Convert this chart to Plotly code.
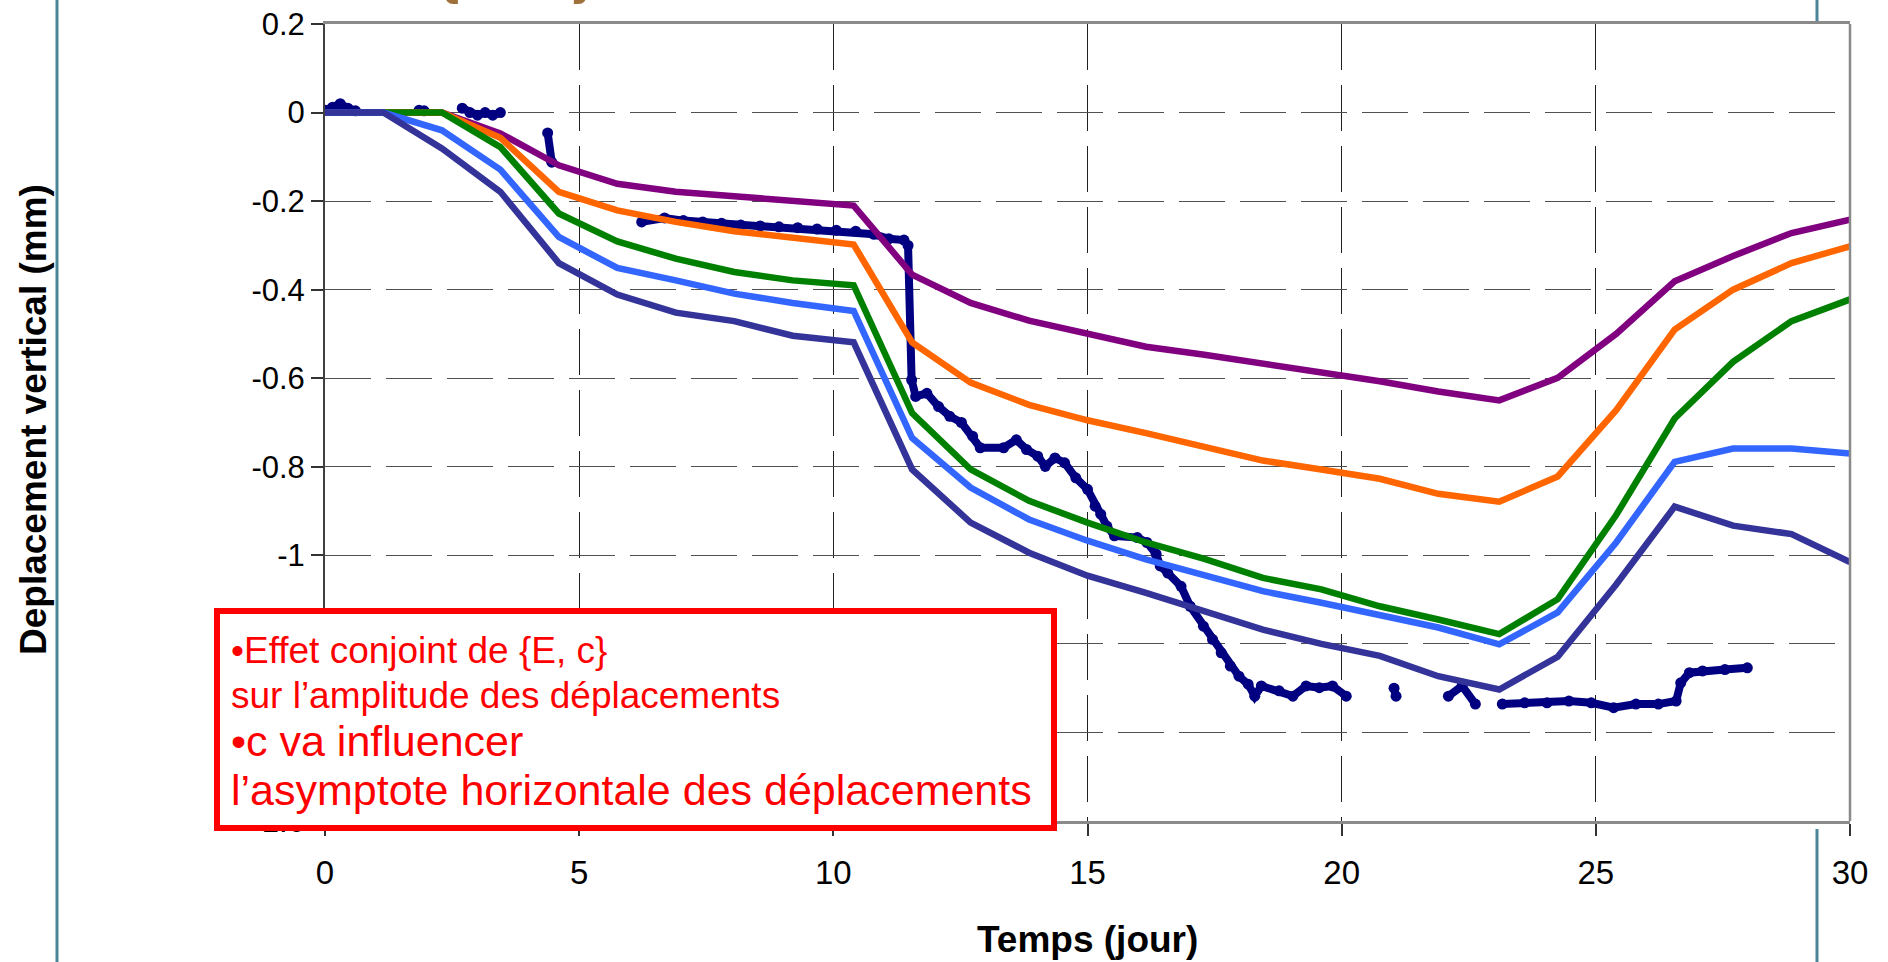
import plotly.graph_objects as go

# ---------------- data ----------------
T = [0, 1.15, 2.3, 3.45, 4.6, 5.75, 6.9, 8.05, 9.2, 10.4, 11.55, 12.7, 13.85, 15.0,
     16.15, 17.3, 18.45, 19.6, 20.75, 21.9, 23.1, 24.25, 25.4, 26.55, 27.7, 28.85, 30.0]

s_purple = [0, 0, 0, -0.047, -0.119, -0.161, -0.179, -0.189, -0.198, -0.210, -0.366, -0.430,
            -0.470, -0.499, -0.529, -0.547, -0.566, -0.586, -0.607, -0.630, -0.650, -0.599,
            -0.500, -0.381, -0.324, -0.272, -0.242]
s_orange = [0, 0, 0, -0.057, -0.179, -0.221, -0.247, -0.268, -0.281, -0.298, -0.519, -0.610,
            -0.660, -0.695, -0.724, -0.754, -0.786, -0.806, -0.827, -0.861, -0.879, -0.822,
            -0.672, -0.490, -0.400, -0.340, -0.302]
s_green = [0, 0, 0, -0.078, -0.228, -0.291, -0.330, -0.360, -0.379, -0.390, -0.679, -0.806,
           -0.877, -0.926, -0.971, -1.008, -1.051, -1.077, -1.115, -1.145, -1.178, -1.099,
           -0.909, -0.691, -0.563, -0.471, -0.422]
s_blue = [0, 0, -0.040, -0.129, -0.281, -0.351, -0.379, -0.409, -0.430, -0.448, -0.735, -0.847,
          -0.919, -0.967, -1.009, -1.046, -1.081, -1.107, -1.134, -1.163, -1.201, -1.129,
          -0.971, -0.789, -0.759, -0.759, -0.770]
s_dark = [0, 0, -0.081, -0.179, -0.340, -0.411, -0.452, -0.471, -0.504, -0.519, -0.806, -0.926,
          -0.994, -1.046, -1.085, -1.125, -1.168, -1.200, -1.227, -1.273, -1.303, -1.229,
          -1.066, -0.890, -0.933, -0.952, -1.015]

# measured displacement (None = gap in record)
meas_t = [0, 0.15, 0.3, 0.45, 0.6, None, 1.85, 1.95, None,
          2.7, 2.85, 3.0, 3.15, 3.3, 3.45, None, 4.38, 4.46, None,
          6.23, 6.68, 7.05, 7.43, 7.8, 8.18, 8.56, 8.93, 9.3, 9.68, 10.06, 10.44, 10.8,
          11.09, 11.39, 11.47, 11.54, 11.62, 11.84, 12.07, 12.29, 12.52, 12.74, 12.89,
          13.35, 13.6, 13.8, 14.02, 14.17, 14.36, 14.55, 14.77, 15.0, 15.15, 15.26, 15.38,
          15.53, 15.98, 16.17, 16.35, 16.43, 16.58, 16.84, 17.02, 17.28, 17.46, 17.63,
          17.81, 17.98, 18.16, 18.29, 18.42, 18.77, 19.04, 19.3, 19.56, 19.82, 20.09, None,
          21.03, 21.07, None, 22.1, 22.37, 22.63, None,
          23.16, 23.6, 24.04, 24.47, 24.91, 25.35, 25.79, 26.23, 26.58, 26.67, 26.84,
          27.1, 27.54, 27.98]
meas_d = [0.005, 0.012, 0.02, 0.01, 0.004, None, 0.005, 0.004, None,
          0.01, 0.0, -0.006, 0.0, -0.006, 0.0, None, -0.046, -0.112, None,
          -0.247, -0.238, -0.244, -0.247, -0.250, -0.254, -0.256, -0.258, -0.260, -0.263,
          -0.266, -0.268, -0.275, -0.285, -0.288, -0.300, -0.604, -0.641, -0.634, -0.664,
          -0.686, -0.700, -0.731, -0.757, -0.757, -0.739, -0.761, -0.776, -0.799, -0.780,
          -0.791, -0.825, -0.851, -0.889, -0.907, -0.934, -0.956, -0.960, -0.971, -0.997,
          -1.024, -1.040, -1.070, -1.115, -1.160, -1.190, -1.220, -1.250, -1.273, -1.291,
          -1.318, -1.295, -1.306, -1.318, -1.295, -1.299, -1.295, -1.318, None,
          -1.300, -1.318, None, -1.318, -1.295, -1.336, None,
          -1.336, -1.333, -1.333, -1.329, -1.333, -1.344, -1.336, -1.336, -1.329, -1.288,
          -1.265, -1.261, -1.258, -1.254]

x_ticks = [0, 5, 10, 15, 20, 25, 30]
y_tickvals = [0.2, 0, -0.2, -0.4, -0.6, -0.8, -1.0, -1.2, -1.4, -1.6]
y_ticktext = ["0.2", "0", "-0.2", "-0.4", "-0.6", "-0.8", "-1", "-1.2", "-1.4", "-1.6"]

# ---------------- figure ----------------
W, H = 1888, 962
L, R, TOP, BOT = 325, 38, 24, 141
PW, PH = W - L - R, H - TOP - BOT


def px(xp):
    return (xp - L) / PW


def py(yp):
    return (H - BOT - yp) / PH


fig = go.Figure()
fig.add_trace(go.Scatter(x=meas_t, y=meas_d, mode="lines+markers",
                         line=dict(color="#000080", width=8),
                         marker=dict(color="#000080", size=11),
                         connectgaps=False, showlegend=False))
for ys, col in [(s_purple, "#800080"), (s_orange, "#FF6600"), (s_green, "#008000"),
                (s_blue, "#3366FF"), (s_dark, "#333399")]:
    fig.add_trace(go.Scatter(x=T, y=ys, mode="lines", line=dict(color=col, width=6.5),
                             showlegend=False))

ff = "Liberation Sans, Arial, sans-serif"
xtickfont = dict(family=ff, size=33, color="black")
ytickfont = dict(family=ff, size=31, color="black")
fig.update_layout(
    width=W, height=H, margin=dict(l=L, r=R, t=TOP, b=BOT, autoexpand=False),
    paper_bgcolor="white", plot_bgcolor="white", showlegend=False,
    xaxis=dict(range=[0, 30], tickvals=x_ticks, showgrid=True, gridcolor="#202020",
               gridwidth=1, griddash="46px,15px", zeroline=False,
               showline=True, mirror=True, linecolor="#8a8a8a", linewidth=2.5,
               ticks="outside", ticklen=12, tickwidth=1.5, tickcolor="#333333",
               tickfont=xtickfont, ticklabelstandoff=9),
    yaxis=dict(range=[-1.6, 0.2], tickvals=y_tickvals, ticktext=y_ticktext,
               showgrid=True, gridcolor="#505050", gridwidth=1, griddash="46px,15px",
               zeroline=False, showline=True, linecolor="#404040", linewidth=2,
               ticks="outside", ticklen=12, tickwidth=1.5, tickcolor="#333333",
               tickfont=ytickfont, ticklabelstandoff=0),
)

# slide frame lines (teal)
teal = "#4A8599"
fig.add_shape(type="line", xref="paper", yref="paper", x0=px(57), x1=px(57),
              y0=py(0), y1=py(H), line=dict(color=teal, width=3), layer="below")
fig.add_shape(type="line", xref="paper", yref="paper", x0=px(1817), x1=px(1817),
              y0=py(0), y1=py(TOP - 1), line=dict(color=teal, width=3), layer="below")
fig.add_shape(type="line", xref="paper", yref="paper", x0=px(1817), x1=px(1817),
              y0=py(H - BOT + 8), y1=py(H), line=dict(color=teal, width=3), layer="below")
# right border of plot area
fig.add_shape(type="line", xref="paper", yref="paper", x0=1, x1=1, y0=0, y1=1,
              line=dict(color="#8a8a8a", width=2.5), layer="above")

# red comment box
fig.add_shape(type="rect", xref="paper", yref="paper", x0=px(217), x1=px(1054),
              y0=py(828), y1=py(611), line=dict(color="#FF0000", width=6),
              fillcolor="white", layer="above")

red = "#FF0000"
lines = [("\u2022Effet conjoint de {E, c}", 37, 650),
         ("sur l\u2019amplitude des déplacements", 37, 695),
         ("\u2022c va influencer", 43, 741),
         ("l\u2019asymptote horizontale des déplacements", 43, 790)]
for txt, fs, yc in lines:
    fig.add_annotation(text=txt, xref="paper", yref="paper", x=px(229), y=py(yc),
                       xanchor="left", yanchor="middle", showarrow=False,
                       font=dict(family=ff, size=fs, color=red))

# axis titles
fig.add_annotation(text="<b>Temps (jour)</b>", xref="paper", yref="paper", x=0.5, y=py(939),
                   xanchor="center", yanchor="middle", showarrow=False,
                   font=dict(family=ff, size=37, color="black"))
fig.add_annotation(text="<b>Deplacement vertical (mm)</b>", xref="paper", yref="paper",
                   x=px(33), y=py(420), xanchor="center", yanchor="middle", textangle=-90,
                   showarrow=False, font=dict(family=ff, size=37, color="black"))

# cut-off slide title (only its lower edge is visible)
fig.add_annotation(text="{E, c}", xref="paper", yref="paper", x=px(435), y=py(6),
                   xanchor="left", yanchor="bottom", showarrow=False,
                   font=dict(family=ff, size=66, color="#A0703A"))

fig.write_html("out.html")
